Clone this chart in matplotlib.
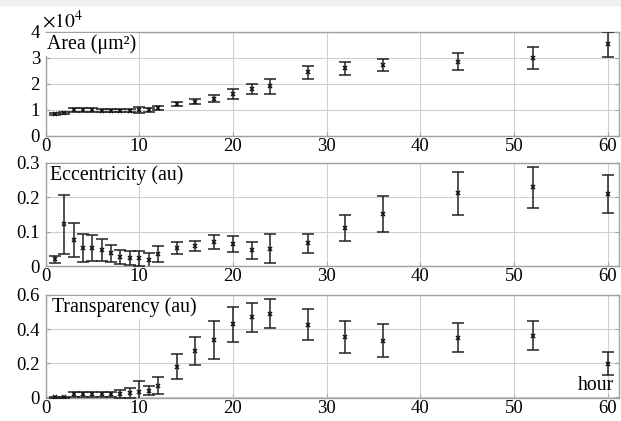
import matplotlib
matplotlib.use('Agg')
import matplotlib.pyplot as plt
import numpy as np

plt.rcParams['font.family'] = 'Liberation Serif'
plt.rcParams['mathtext.fontset'] = 'stix'

# time points (hour)
hours = [1, 2, 3, 4, 5, 6, 7, 8, 9, 10, 11, 12,
         14, 16, 18, 20, 22, 24, 28, 32, 36, 44, 52, 60]

# area (um^2)
area = [8500, 8800, 10000, 10000, 10000, 9700, 9700, 9700, 9800, 10000, 10000, 10800,
        12200, 13200, 14300, 16200, 18100, 19100, 24500, 26000, 27300, 28600, 29900, 35300]
area_err = [500, 500, 600, 600, 600, 600, 600, 600, 600, 1300, 600, 700,
            800, 900, 1400, 1900, 2000, 2800, 2400, 2400, 2400, 3200, 4200, 4800]

# eccentricity (au)
ecc = [0.020, 0.121, 0.076, 0.053, 0.053, 0.047, 0.037, 0.027, 0.024, 0.022, 0.017, 0.035,
       0.053, 0.058, 0.071, 0.064, 0.046, 0.051, 0.066, 0.110, 0.152, 0.211, 0.229, 0.209]
ecc_err = [0.010, 0.086, 0.049, 0.040, 0.037, 0.033, 0.025, 0.020, 0.021, 0.023, 0.022, 0.022,
           0.017, 0.015, 0.020, 0.022, 0.025, 0.043, 0.028, 0.038, 0.052, 0.063, 0.060, 0.055]

# transparency (au)
transp = [0.000, 0.002, 0.019, 0.019, 0.019, 0.019, 0.019, 0.020, 0.028, 0.034, 0.040, 0.069,
          0.180, 0.272, 0.335, 0.429, 0.469, 0.491, 0.425, 0.354, 0.333, 0.350, 0.362, 0.196]
transp_err = [0.003, 0.003, 0.015, 0.015, 0.015, 0.015, 0.015, 0.025, 0.030, 0.060, 0.028, 0.050,
              0.074, 0.084, 0.113, 0.103, 0.085, 0.087, 0.090, 0.095, 0.095, 0.086, 0.085, 0.067]

fig = plt.figure(figsize=(6.21, 4.21), dpi=100)
fig.patches.append(plt.Rectangle((0, 0.988), 1, 0.012, transform=fig.transFigure,
                                 color='#f0f0f0', zorder=0))

left, width = 0.0733, 0.9235
ax1 = fig.add_axes([left, 0.677, width, 0.247])
ax2 = fig.add_axes([left, 0.368, width, 0.2455])
ax3 = fig.add_axes([left, 0.054, width, 0.2455])

panels = [
    (ax1, np.array(area) / 1e4, np.array(area_err) / 1e4, (0, 4), [0, 1, 2, 3, 4], ['0', '1', '2', '3', '4'], 'Area (μm²)', 0.002),
    (ax2, ecc, ecc_err, (0, 0.3), [0, 0.1, 0.2, 0.3], ['0', '0.1', '0.2', '0.3'], 'Eccentricity (au)', 0.007),
    (ax3, transp, transp_err, (-0.005, 0.6), [0, 0.2, 0.4, 0.6], ['0', '0.2', '0.4', '0.6'], 'Transparency (au)', 0.012),
]

for ax, y, e, ylim, yt, ytl, label, lx in panels:
    ax.errorbar(hours, y, yerr=e, fmt='x', color='#111111', ms=3.4, mew=1.1,
                ecolor='#222222', elinewidth=1.1, capsize=4, capthick=1.1, zorder=3)
    ax.set_xlim(0, 61.2)
    ax.set_ylim(*ylim)
    ax.set_xticks([0, 10, 20, 30, 40, 50, 60])
    ax.set_xticklabels(['0', '10', '20', '30', '40', '50', '60'])
    ax.set_yticks(yt)
    ax.set_yticklabels(ytl)
    for lbl in ax.get_xticklabels() + ax.get_yticklabels():
        lbl.set_fontfamily('Liberation Serif')
    ax.grid(True, color='#d0d0d0', lw=0.8)
    ax.set_axisbelow(True)
    ax.tick_params(direction='in', length=3, color='#a0a0a0', labelsize=13.5,
                   top=False, right=True)
    ax.tick_params(axis='y', pad=4)
    ax.tick_params(axis='x', pad=1.5)
    for s in ax.spines.values():
        s.set_color('#a0a0a0')
        s.set_linewidth(1.0)
    ax.text(lx, 0.975, label, transform=ax.transAxes, ha='left', va='top',
            fontsize=14.3, zorder=4,
            bbox=dict(facecolor='white', edgecolor='none', pad=1.0))

fig.text(42 / 621, 1 - 28 / 421, r'$\times10^4$', fontsize=14, ha='left', va='baseline')
ax3.text(0.992, 0.03, 'hour', transform=ax3.transAxes, ha='right', va='bottom', fontsize=14.3)

fig.savefig('out.png', dpi=100)
